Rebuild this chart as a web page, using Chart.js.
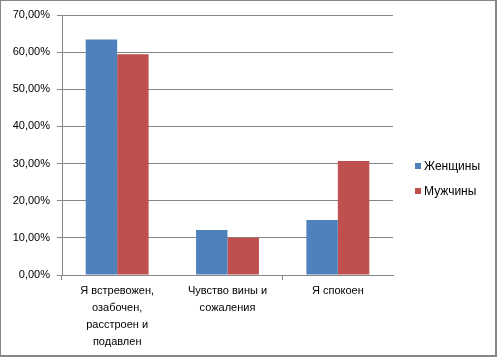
<!DOCTYPE html>
<html>
<head>
<meta charset="utf-8">
<script src="https://cdn.jsdelivr.net/npm/chart.js@4"></script>
<style>
  html, body { margin: 0; padding: 0; background: #fff; }
  #wrap { position: relative; width: 497px; height: 358px; }
  #frame { position: absolute; left: 0; top: 0; width: 494px; height: 354px; border: 1px solid #868686; border-width: 1px 2px 2px 1px; box-sizing: content-box; pointer-events: none; }
  canvas { position: absolute; left: 0; top: 0; }
  #legend { position: absolute; left: 415px; top: 158px; font: 12px "Liberation Sans", Arial, sans-serif; color: #000; }
  .li { position: relative; height: 25px; line-height: 16px; }
  .sw { position: absolute; left: 0; top: 5px; width: 6px; height: 6px; }
  .tx { position: absolute; left: 9px; top: 0; white-space: nowrap; }
</style>
</head>
<body>
<div id="wrap">
  <canvas id="c" width="497" height="358"></canvas>
  <div id="frame"></div>
  <div id="legend"></div>
</div>
<script>
const categories = [
  ["Я встревожен,", "озабочен,", "расстроен и", "подавлен"],
  ["Чувство вины и", "сожаления"],
  ["Я спокоен"]
];
const seriesNames = ["Женщины", "Мужчины"];
const women = [0.634, 0.121, 0.148];
const men = [0.594, 0.100, 0.307];
const yTicks = [0, 0.1, 0.2, 0.3, 0.4, 0.5, 0.6, 0.7];
const colors = ["#4F81BD", "#C0504D"];

const font = { family: '"Liberation Sans", Arial, sans-serif', size: 11 };

new Chart(document.getElementById('c'), {
  type: 'bar',
  data: {
    labels: categories,
    datasets: [
      { label: seriesNames[0], data: women, backgroundColor: colors[0], categoryPercentage: 0.57, barPercentage: 1.0 },
      { label: seriesNames[1], data: men, backgroundColor: colors[1], categoryPercentage: 0.57, barPercentage: 1.0 }
    ]
  },
  options: {
    responsive: false,
    animation: false,
    layout: { padding: { left: 0, top: 15, right: 104, bottom: 2 } },
    plugins: { legend: { display: false }, tooltip: { enabled: false } },
    scales: {
      x: {
        offset: true,
        grid: {
          display: true, drawOnChartArea: false, drawTicks: true, tickLength: 5, offset: true,
          color: c => (c.index === 0 || c.index === 2) ? '#868686' : 'rgba(0,0,0,0)'
        },
        border: { display: true, color: '#868686' },
        ticks: { color: '#000', font: Object.assign({}, font, { lineHeight: 1.52 }), padding: 3, maxRotation: 0, autoSkip: false },
        afterFit: s => { s.height = 81; }
      },
      y: {
        min: 0, max: 0.7,
        afterBuildTicks: s => { s.ticks = yTicks.map(v => ({ value: v })); },
        grid: { color: '#868686', tickLength: 5, drawTicks: true },
        border: { display: true, color: '#868686' },
        ticks: {
          color: '#000', font: font, padding: 7,
          callback: v => (v * 100).toFixed(2).replace('.', ',') + '%'
        },
        afterFit: s => { s.width = 62; }
      }
    }
  }
});

const lg = document.getElementById('legend');
seriesNames.forEach((n, i) => {
  const d = document.createElement('div');
  d.className = 'li';
  d.innerHTML = '<span class="sw" style="background:' + colors[i] + '"></span><span class="tx">' + n + '</span>';
  lg.appendChild(d);
});
</script>
</body>
</html>
